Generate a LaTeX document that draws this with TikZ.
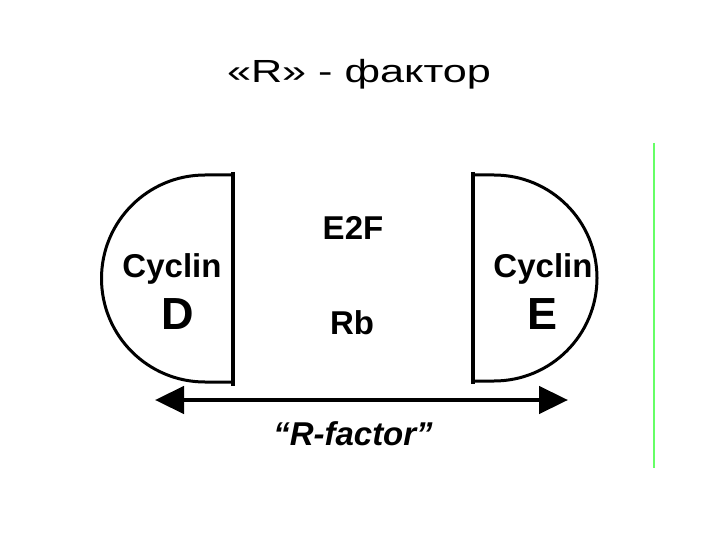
\documentclass[tikz,border=0pt]{standalone}
\usepackage{fontspec}
\setmainfont{Liberation Sans}
\usetikzlibrary{arrows.meta}

\begin{document}
\begin{tikzpicture}[x=1pt, y=-1pt,
    lbl/.style={anchor=base, inner sep=0pt, font=\fontsize{33}{38}\selectfont\bfseries},
    biglbl/.style={anchor=base, inner sep=0pt, font=\fontsize{45}{50}\selectfont\bfseries},
    cup/.style={black, line width=3pt},
    rline/.style={black, line width=4.5pt, {Triangle[length=29pt,width=27pt]}-{Triangle[length=29pt,width=27pt]}}]
  \useasboundingbox (0,0) rectangle (720,540);

  % Title
  \node[anchor=base, inner sep=0pt, xscale=1.35, font=\fontsize{32}{38}\selectfont] (title) at (359,83) {«R» - фактор};

  % Scan edge
  \draw[green!60!white, line width=1.2pt] (654,143) -- (654,468);

  % Cyclin D half disc
  \draw[cup] (233,382) -- (205,382) arc (270:90:103.5pt) -- (233,175);
  \draw[cup, line width=3.5pt] (233,172) -- (233,386);
  \node[lbl] (cycD) at (172,277) {Cyclin};
  \node[biglbl] (labD) at (178,329) {D};

  % Cyclin E half disc
  \draw[cup] (473,175) -- (494,175) arc (90:-90:103pt) -- (473,381);
  \draw[cup, line width=3.5pt] (473,172) -- (473,384);
  \node[lbl] (cycE) at (543,277) {Cyclin};
  \node[biglbl] (labE) at (543,329) {E};

  % Middle
  \node[lbl] (e2f) at (353,240) {E2F};
  \node[lbl] (rb) at (352,334) {Rb};

  % R-factor span
  \coordinate (rL) at (155,400);
  \coordinate (rR) at (568,400);
  \draw[rline] (rL) -- (rR);
  \node[lbl, font=\fontsize{33}{38}\selectfont\bfseries\itshape] (rfac) at (353,445) {“R-factor”};
\end{tikzpicture}
\end{document}
